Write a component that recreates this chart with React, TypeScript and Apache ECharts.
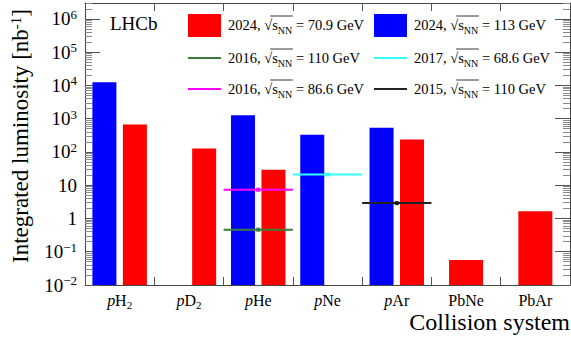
import React, { useEffect, useRef } from 'react';
import * as echarts from 'echarts';

const FONT = '"Liberation Serif", "Times New Roman", serif';

// Categories (collision systems)
const categories = ['pH2', 'pD2', 'pHe', 'pNe', 'pAr', 'PbNe', 'PbAr'];
const categoryLabels = [
  '{i|p}{n|H}{sub|2}',
  '{i|p}{n|D}{sub|2}',
  '{i|p}{n|He}',
  '{i|p}{n|Ne}',
  '{i|p}{n|Ar}',
  '{n|PbNe}',
  '{n|PbAr}',
];

// 2024 samples, integrated luminosity [nb^-1]
const lumi2024_113 = [12500, '-', 1270, 327, 530, '-', '-'];
const lumi2024_709 = [670, 127, 29, '-', 237, '-', '-'];
const lumi2024_709_Pb = ['-', '-', '-', '-', '-', 0.056, 1.66];

// Earlier samples: [first category edge, last category edge, luminosity]
const lumi2016_110 = [2, 3, 0.46];
const lumi2017_686 = [3, 4, 21];
const lumi2016_866 = [2, 3, 7.3];
const lumi2015_110 = [4, 5, 2.9];

// Axis ticks
const yMajorTicks = [0.01, 0.1, 1, 10, 100, 1e3, 1e4, 1e5, 1e6];
const yMinorMantissas = [2, 3, 4, 5, 6, 7, 8, 9];
const yMin = 0.01;
const yMax = 3e6;

const legendEntries = [
  { year: '2024', energy: '70.9 GeV', color: '#ff0000', kind: 'box' },
  { year: '2024', energy: '113 GeV', color: '#0000ff', kind: 'box' },
  { year: '2016', energy: '110 GeV', color: '#3a7d3a', kind: 'line' },
  { year: '2017', energy: '68.6 GeV', color: '#33ffff', kind: 'line' },
  { year: '2016', energy: '86.6 GeV', color: '#ff00ff', kind: 'line' },
  { year: '2015', energy: '110 GeV', color: '#222222', kind: 'line' },
];

function measure(text: string, size: number) {
  const c = document.createElement('canvas').getContext('2d')!;
  c.font = `${size}px ${FONT}`;
  return c.measureText(text).width;
}

function yLabel(v: number) {
  const e = Math.round(Math.log10(v));
  if (e === 0) return '{b|1}';
  if (e === 1) return '{b|10}';
  return `{b|10}{s|${e < 0 ? '\u2212' + -e : e}}`;
}

function lineSeries(name: string, d: number[], color: string) {
  const [a, b, v] = d;
  return {
    name,
    type: 'line',
    xAxisIndex: 2,
    yAxisIndex: 0,
    showSymbol: true,
    symbol: 'none',
    lineStyle: { color, width: 2 },
    itemStyle: { color },
    data: [
      { value: [a, v], symbol: 'none' },
      { value: [(a + b) / 2, v], symbol: 'rect', symbolSize: 4 },
      { value: [b, v], symbol: 'none' },
    ],
    z: 5,
  };
}

const AXIS_COLOR = '#444';
const MAJOR_TICK = '#555';
const MINOR_TICK = '#8a8a8a';

export default function App() {
  const ref = useRef<HTMLDivElement>(null);
  useEffect(() => {
    const chart = echarts.init(ref.current!, null, { renderer: 'svg' });
    const minor: number[] = [];
    for (let d = -2; d <= 6; d++) {
      for (const m of yMinorMantissas) {
        const v = m * Math.pow(10, d);
        if (v <= yMax * 1.0001) minor.push(v);
      }
    }

    const baseRich = {
      b: { fontSize: 19, fontFamily: FONT, color: '#000', lineHeight: 22 },
      s: { fontSize: 13, fontFamily: FONT, color: '#000', lineHeight: 13, verticalAlign: 'top' },
    };

    // Legend graphics
    const legendGraphics: any[] = [];
    const colX = [188, 374];
    const rowY = [25, 58, 89];
    const fs = 14.5;
    legendEntries.forEach((e, i) => {
      const col = i % 2;
      const row = Math.floor(i / 2);
      const x = colX[col];
      const y = rowY[row];
      if (e.kind === 'box') {
        legendGraphics.push({
          type: 'rect',
          shape: { x, y: y - 11, width: 33, height: 23 },
          style: { fill: e.color },
        });
      } else {
        legendGraphics.push({
          type: 'line',
          shape: { x1: x, y1: y, x2: x + 33, y2: y },
          style: { stroke: e.color, lineWidth: 2 },
        });
      }
      const tx = x + 40;
      const pre = `${e.year}, `;
      legendGraphics.push({
        type: 'text',
        x: tx,
        y,
        style: {
          text: `${pre}{sq|\u221A}{n|s}{sub|NN} = ${e.energy}`,
          font: `${fs}px ${FONT}`,
          fill: '#000',
          verticalAlign: 'middle',
          align: 'left',
          rich: {
            sq: { fontSize: fs, fontFamily: FONT, lineHeight: 20 },
            n: { fontSize: fs, fontFamily: FONT, lineHeight: 20 },
            sub: { fontSize: 10, fontFamily: FONT, lineHeight: 10, verticalAlign: 'bottom' },
          },
        },
      });
      const x0 = tx + measure(pre, fs) + measure('\u221A', fs) * 0.75;
      const x1 = tx + measure(pre + '\u221As', fs) + measure('NN', 10) + 0.5;
      legendGraphics.push({
        type: 'line',
        shape: { x1: x0, y1: y - 9, x2: x1, y2: y - 9 },
        style: { stroke: '#000', lineWidth: 0.8 },
      });
    });

    const yAxisCommon = {
      type: 'log',
      logBase: 10,
      min: yMin,
      max: yMax,
      splitLine: { show: false },
    };

    const option: any = {
      animation: false,
      backgroundColor: '#fff',
      grid: { left: 85, right: 1, top: 3, bottom: 55, containLabel: false, outerBoundsMode: 'none' },
      xAxis: [
        {
          type: 'category',
          data: categories,
          position: 'bottom',
          axisLine: { show: true, lineStyle: { color: AXIS_COLOR, width: 1 } },
          axisTick: { show: true, inside: true, length: 8, interval: 0, lineStyle: { color: MAJOR_TICK, width: 1 } },
          axisLabel: {
            margin: 5,
            interval: 0,
            formatter: (_: string, idx: number) => categoryLabels[idx],
            rich: {
              i: { fontSize: 16, fontStyle: 'italic', fontFamily: FONT, color: '#000', lineHeight: 20 },
              n: { fontSize: 16, fontFamily: FONT, color: '#000', lineHeight: 20 },
              sub: { fontSize: 11, fontFamily: FONT, color: '#000', lineHeight: 11, verticalAlign: 'bottom' },
            },
          },
          splitLine: { show: false },
        },
        {
          type: 'category',
          data: categories,
          position: 'top',
          axisLine: { show: true, lineStyle: { color: AXIS_COLOR, width: 1 } },
          axisTick: { show: true, inside: true, length: 8, interval: 0, lineStyle: { color: MAJOR_TICK, width: 1 } },
          axisLabel: { show: false },
          splitLine: { show: false },
        },
        { type: 'value', min: 0, max: categories.length, show: false },
      ],
      yAxis: [
        {
          ...yAxisCommon,
          startValue: yMin,
          splitNumber: 9,
          position: 'left',
          axisLine: { show: true, lineStyle: { color: AXIS_COLOR, width: 1 } },
          axisTick: { show: true, inside: true, length: 15, customValues: yMajorTicks, lineStyle: { color: MAJOR_TICK, width: 1 } },
          axisLabel: { margin: 8, customValues: yMajorTicks, formatter: yLabel, rich: baseRich },
        },
        {
          ...yAxisCommon,
          position: 'left',
          axisLine: { show: false },
          axisTick: { show: true, inside: true, length: 7, customValues: minor, lineStyle: { color: MINOR_TICK, width: 1 } },
          axisLabel: { show: false },
        },
        {
          ...yAxisCommon,
          position: 'right',
          axisLine: { show: true, lineStyle: { color: AXIS_COLOR, width: 1 } },
          axisTick: { show: true, inside: true, length: 15, customValues: yMajorTicks, lineStyle: { color: MAJOR_TICK, width: 1 } },
          axisLabel: { show: false },
        },
        {
          ...yAxisCommon,
          position: 'right',
          axisLine: { show: false },
          axisTick: { show: true, inside: true, length: 7, customValues: minor, lineStyle: { color: MINOR_TICK, width: 1 } },
          axisLabel: { show: false },
        },
      ],
      series: [
        {
          name: '2024, 113 GeV',
          type: 'bar',
          xAxisIndex: 0,
          yAxisIndex: 0,
          data: lumi2024_113,
          barWidth: 24,
          barGap: '27%',
          itemStyle: { color: '#0000ff' },
        },
        {
          name: '2024, 70.9 GeV',
          type: 'bar',
          xAxisIndex: 0,
          yAxisIndex: 0,
          data: lumi2024_709,
          barWidth: 24,
          barGap: '27%',
          itemStyle: { color: '#ff0000' },
        },
        {
          name: '2024, 70.9 GeV (Pb)',
          type: 'bar',
          xAxisIndex: 1,
          yAxisIndex: 0,
          data: lumi2024_709_Pb,
          barWidth: 34,
          itemStyle: { color: '#ff0000' },
        },
        lineSeries('2016, 110 GeV', lumi2016_110, '#3a7d3a'),
        lineSeries('2017, 68.6 GeV', lumi2017_686, '#33ffff'),
        lineSeries('2016, 86.6 GeV', lumi2016_866, '#ff00ff'),
        lineSeries('2015, 110 GeV', lumi2015_110, '#222222'),
      ],
      graphic: [
        {
          type: 'text',
          x: 110,
          y: 23,
          style: { text: 'LHCb', font: `19px ${FONT}`, fill: '#000', verticalAlign: 'middle' },
        },
        {
          type: 'text',
          x: 20,
          y: 136,
          rotation: Math.PI / 2,
          style: {
            text: 'Integrated luminosity [nb{sup|-1}]',
            font: `23px ${FONT}`,
            fill: '#000',
            align: 'center',
            verticalAlign: 'middle',
            rich: {
              sup: { fontSize: 15, fontFamily: FONT, lineHeight: 15, verticalAlign: 'top' },
            },
          },
        },
        {
          type: 'text',
          x: 570,
          y: 322,
          style: { text: 'Collision system', font: `24px ${FONT}`, fill: '#000', align: 'right', verticalAlign: 'middle' },
        },
        ...legendGraphics,
      ],
    };
    chart.setOption(option);
    return () => chart.dispose();
  }, []);
  return (
    <div
      ref={ref}
      style={{ position: 'fixed', left: 0, top: 0, width: 571, height: 340, background: '#fff' }}
    />
  );
}
